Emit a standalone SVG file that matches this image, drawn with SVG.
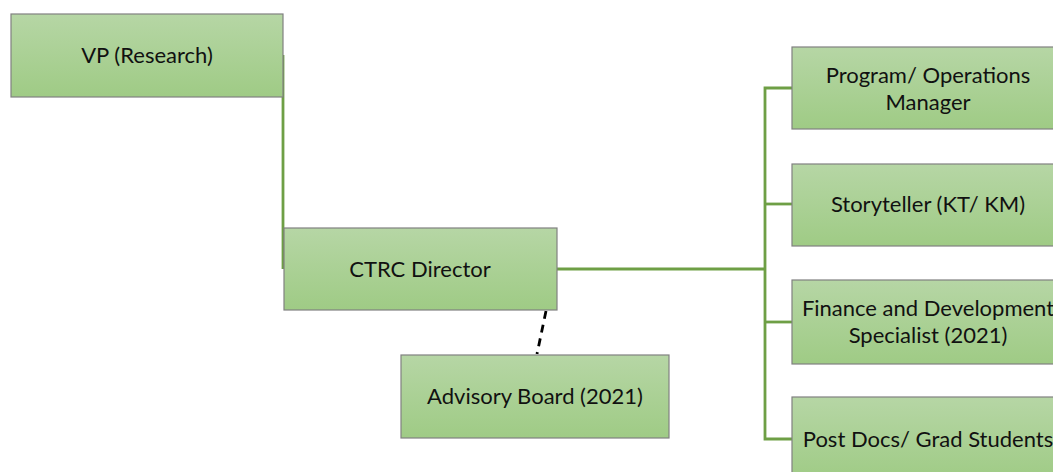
<svg xmlns="http://www.w3.org/2000/svg" width="1053" height="472" viewBox="0 0 1053 472">
<defs>
<linearGradient id="g" x1="0" y1="0" x2="0" y2="1">
<stop offset="0" stop-color="#b6d6a5"/>
<stop offset="1" stop-color="#9fcb85"/>
</linearGradient>
<style>
.box{fill:url(#g);stroke:#808080;stroke-width:1.2}
.t{font-family:Lato,"Open Sans",sans-serif;font-size:22px;fill:#111;text-anchor:middle}
.c{stroke:#6e9f45;stroke-width:2.8;fill:none}
.d{stroke:#000;stroke-width:2.8;stroke-dasharray:8,6;fill:none}
</style>
</defs>
<g id="connectors">
<path class="c" d="M283,55 V269"/>
<path class="c" d="M557,269 H765"/>
<path class="c" d="M792,88 H765 V439 H792"/>
<path class="c" d="M765,204 H792"/>
<path class="c" d="M765,322 H792"/>
<path class="d" d="M546,311 L537,354"/>
</g>
<g id="vp">
<rect class="box" x="11" y="14" width="272" height="83"/>
<text class="t" x="147" y="63">VP (Research)</text>
</g>
<g id="ctrc">
<rect class="box" x="284" y="228" width="273" height="82"/>
<text class="t" x="420" y="277">CTRC Director</text>
</g>
<g id="advisory">
<rect class="box" x="401" y="355" width="268" height="83"/>
<text class="t" x="535" y="404">Advisory Board (2021)</text>
</g>
<g id="program">
<rect class="box" x="792" y="47" width="272" height="82"/>
<text class="t" x="928" y="83">Program/ Operations</text>
<text class="t" x="928" y="110">Manager</text>
</g>
<g id="storyteller">
<rect class="box" x="792" y="164" width="272" height="82"/>
<text class="t" x="928" y="212">Storyteller (KT/ KM)</text>
</g>
<g id="finance">
<rect class="box" x="792" y="280" width="272" height="84"/>
<text class="t" x="928" y="316">Finance and Development</text>
<text class="t" x="928" y="343">Specialist (2021)</text>
</g>
<g id="postdocs">
<rect class="box" x="792" y="397" width="272" height="84"/>
<text class="t" x="928" y="447">Post Docs/ Grad Students</text>
</g>
</svg>
